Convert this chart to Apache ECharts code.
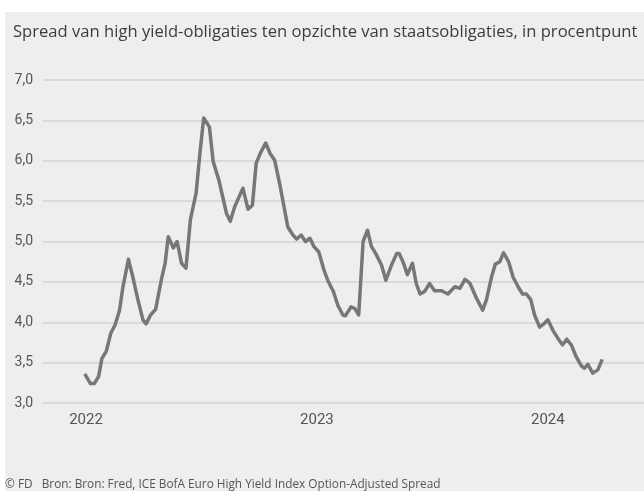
<!DOCTYPE html>
<html>
<head>
<meta charset="utf-8">
<script src="https://cdn.jsdelivr.net/npm/echarts@6/dist/echarts.min.js"></script>
<style>
html,body{margin:0;padding:0;background:#ffffff;}
#bg{position:absolute;left:5px;top:12px;width:639px;height:479px;background:#eeeeee;}
#chart{position:absolute;left:0;top:0;width:644px;height:491px;}
</style>
</head>
<body>
<div id="bg"></div>
<div id="chart"></div>
<script>
const titleText = 'Spread van high yield-obligaties ten opzichte van staatsobligaties, in procentpunt';
const footerText = '\u00A9 FD   Bron: Bron: Fred, ICE BofA Euro High Yield Index Option-Adjusted Spread';
const yearLabels = ['2022', '2023', '2024'];
const yearTickDates = ['2022-01-01', '2023-01-01', '2024-01-01'];
const yTicks = [3.0, 3.5, 4.0, 4.5, 5.0, 5.5, 6.0, 6.5, 7.0];

const dates = [
'2021-12-30','2022-01-08','2022-01-14','2022-01-21','2022-01-26','2022-02-02','2022-02-09','2022-02-16','2022-02-23','2022-02-28',
'2022-03-09','2022-03-16','2022-03-24','2022-04-01','2022-04-06','2022-04-13','2022-04-21','2022-04-27','2022-05-01','2022-05-06',
'2022-05-11','2022-05-19','2022-05-25','2022-06-01','2022-06-08','2022-06-15','2022-06-24','2022-06-30','2022-07-06','2022-07-15',
'2022-07-21','2022-07-30','2022-08-11','2022-08-17','2022-08-24','2022-09-06','2022-09-14','2022-09-21','2022-09-27','2022-10-04',
'2022-10-12','2022-10-19','2022-10-26','2022-11-03','2022-11-16','2022-11-24','2022-11-30','2022-12-07','2022-12-14','2022-12-21',
'2022-12-27','2023-01-04','2023-01-12','2023-01-18','2023-01-27','2023-02-03','2023-02-11','2023-02-15','2023-02-24','2023-03-02',
'2023-03-08','2023-03-15','2023-03-22','2023-03-28','2023-04-04','2023-04-13','2023-04-20','2023-04-29','2023-05-07','2023-05-11',
'2023-05-17','2023-05-24','2023-06-01','2023-06-07','2023-06-13','2023-06-20','2023-06-28','2023-07-06','2023-07-17','2023-07-27',
'2023-08-07','2023-08-15','2023-08-23','2023-08-31','2023-09-10','2023-09-20','2023-09-26','2023-10-04','2023-10-10','2023-10-17',
'2023-10-23','2023-10-31','2023-11-07','2023-11-15','2023-11-22','2023-11-28','2023-12-05','2023-12-11','2023-12-19','2023-12-27',
'2024-01-01','2024-01-09','2024-01-17','2024-01-24','2024-01-31','2024-02-07','2024-02-15','2024-02-23','2024-02-28','2024-03-04',
'2024-03-12','2024-03-20','2024-03-27'
];
const spread = [
3.36,3.24,3.24,3.33,3.55,3.64,3.86,3.97,4.15,4.42,
4.78,4.56,4.28,4.03,3.98,4.09,4.16,4.40,4.56,4.73,
5.06,4.92,5.00,4.73,4.67,5.27,5.60,6.09,6.53,6.42,
5.99,5.76,5.35,5.25,5.43,5.66,5.40,5.45,5.97,6.10,
6.22,6.09,6.01,5.72,5.18,5.08,5.03,5.08,5.00,5.04,
4.94,4.87,4.65,4.52,4.38,4.21,4.09,4.08,4.19,4.17,
4.09,5.00,5.14,4.94,4.85,4.71,4.52,4.71,4.85,4.85,
4.75,4.59,4.73,4.48,4.35,4.38,4.48,4.39,4.39,4.35,
4.44,4.42,4.53,4.48,4.30,4.15,4.28,4.56,4.72,4.75,
4.86,4.75,4.56,4.44,4.35,4.35,4.28,4.09,3.94,3.99,
4.03,3.90,3.80,3.72,3.79,3.72,3.57,3.46,3.43,3.48,
3.37,3.41,3.54
];

function dayOffset(s){
  const p = s.split('-').map(Number);
  return (Date.UTC(p[0], p[1]-1, p[2]) - Date.UTC(2022, 0, 1)) / 86400000;
}
const seriesData = dates.map((d, i) => [dayOffset(d), spread[i]]);
const yearTicks = yearTickDates.map(dayOffset);

const chart = echarts.init(document.getElementById('chart'), null, {renderer: 'canvas'});
chart.setOption({
  backgroundColor: 'transparent',
  animation: false,
  title: {
    text: titleText,
    left: 8, top: 19,
    textStyle: {fontFamily: 'Open Sans', fontSize: 16.6, fontWeight: 'normal', color: '#3c3c3c'}
  },
  graphic: [{
    type: 'text', left: 5, top: 479,
    style: {text: footerText, fontFamily: 'Open Sans', fontSize: 11.8, fill: '#555555'}
  }],
  grid: {left: 43, right: 0, top: 80, bottom: 88, containLabel: false},
  xAxis: {
    type: 'value',
    min: -68, max: 882,
    axisLine: {show: false},
    axisTick: {show: false},
    splitLine: {show: false},
    axisLabel: {
      customValues: yearTicks,
      margin: 10,
      fontFamily: 'Roboto', fontSize: 15, color: '#555555',
      formatter: function(v){ const i = yearTicks.indexOf(v); return i >= 0 ? yearLabels[i] : ''; }
    }
  },
  yAxis: {
    type: 'value',
    min: yTicks[0], max: yTicks[yTicks.length-1], interval: 0.5,
    axisLine: {show: false},
    axisTick: {show: false},
    splitLine: {show: true, lineStyle: {color: '#dadada', width: 2}},
    axisLabel: {
      margin: 10,
      fontFamily: 'Roboto', fontSize: 14, color: '#555555',
      formatter: v => v.toFixed(1).replace('.', ',')
    }
  },
  series: [{
    type: 'line',
    data: seriesData,
    showSymbol: false,
    lineStyle: {color: '#777777', width: 3.5, join: 'round'},
    itemStyle: {color: '#777777'}
  }]
});
</script>
</body>
</html>
